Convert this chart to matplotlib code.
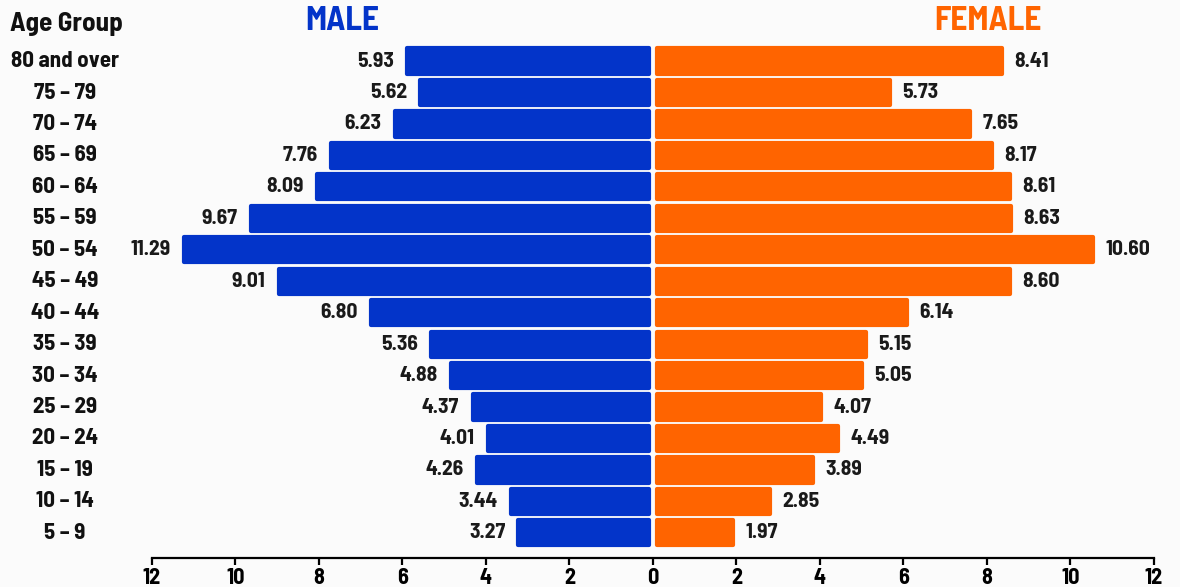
import matplotlib.pyplot as plt
import matplotlib.transforms as mtransforms
from matplotlib import font_manager as fm


def wnum(w):
    try:
        return int(w)
    except (TypeError, ValueError):
        return {'bold': 700, 'normal': 400, 'regular': 400}.get(str(w).lower(), 400)


# bold semi-condensed face; fall back to DejaVu Sans Condensed Bold
font_path = None
for want in ['Barlow Semi Condensed', 'DejaVu Sans']:
    for f in fm.fontManager.ttflist:
        if f.name == want and wnum(f.weight) == 700 and f.style == 'normal':
            if want == 'DejaVu Sans' and 'Condensed' not in f.fname:
                continue
            font_path = f.fname
            break
    if font_path:
        break

age_groups = ['5 – 9', '10 – 14', '15 – 19', '20 – 24', '25 – 29', '30 – 34',
              '35 – 39', '40 – 44', '45 – 49', '50 – 54', '55 – 59', '60 – 64',
              '65 – 69', '70 – 74', '75 – 79', '80 and over']
male = [3.27, 3.44, 4.26, 4.01, 4.37, 4.88, 5.36, 6.80, 9.01, 11.29, 9.67,
        8.09, 7.76, 6.23, 5.62, 5.93]
female = [1.97, 2.85, 3.89, 4.49, 4.07, 5.05, 5.15, 6.14, 8.60, 10.60, 8.63,
          8.61, 8.17, 7.65, 5.73, 8.41]
ticks = [-12, -10, -8, -6, -4, -2, 0, 2, 4, 6, 8, 10, 12]

blue = '#0334C9'
orange = '#FF6400'
bg = '#FBFBFB'


def fp(size):
    if font_path:
        return fm.FontProperties(fname=font_path, size=size)
    return fm.FontProperties(family='DejaVu Sans', weight='bold', size=size)


fig = plt.figure(figsize=(11.8, 5.87), dpi=100, facecolor=bg)
ax = fig.add_axes([0.1288, 0.0494, 0.849, 0.8825], facecolor=bg)

y = list(range(len(age_groups)))
# rounded corners come from a thick round-joined outline, so pull the
# fill in by half the stroke width (~0.05 x units)
ext = 0.05
inner = 0.05 + ext
bm = ax.barh(y, [-(v - inner - ext) for v in male], left=-inner, height=0.8,
             color=blue)
bf = ax.barh(y, [v - inner - ext for v in female], left=inner, height=0.8,
             color=orange)
for p in list(bm) + list(bf):
    p.set_edgecolor(p.get_facecolor())
    p.set_linewidth(3)
    p.set_joinstyle('round')

for yi, v in zip(y, male):
    ax.text(-v - 0.27, yi, f'{v:.2f}', ha='right', va='center',
            fontproperties=fp(15.5), color='#1a1a1a')
for yi, v in zip(y, female):
    ax.text(v + 0.25, yi, f'{v:.2f}', ha='left', va='center',
            fontproperties=fp(15.5), color='#1a1a1a')

ax.set_xlim(-12, 12)
ax.set_ylim(-0.8, 15.67)
ax.set_xticks(ticks)
ax.set_xticklabels([str(abs(t)) for t in ticks], fontproperties=fp(16))
ax.set_yticks([])
for s in ['top', 'right', 'left']:
    ax.spines[s].set_visible(False)
ax.spines['bottom'].set_linewidth(1.6)
ax.tick_params(axis='x', direction='out', length=5, width=1.6, pad=2)

trans = mtransforms.blended_transform_factory(fig.transFigure, ax.transData)
for yi, lab in zip(y, age_groups):
    ax.text(65 / 1180, yi, lab, transform=trans, ha='center', va='center',
            fontproperties=fp(16.5), color='#111111')

fig.text(10 / 1180, 1 - 24 / 587, 'Age Group', ha='left', va='center',
         fontproperties=fp(19.5), color='#111111')
fig.text(342 / 1180, 1 - 21 / 587, 'MALE', ha='center', va='center',
         fontproperties=fp(24), color=blue)
fig.text(988 / 1180, 1 - 21 / 587, 'FEMALE', ha='center', va='center',
         fontproperties=fp(24), color=orange)

fig.savefig('out.png', dpi=100, facecolor=bg)
